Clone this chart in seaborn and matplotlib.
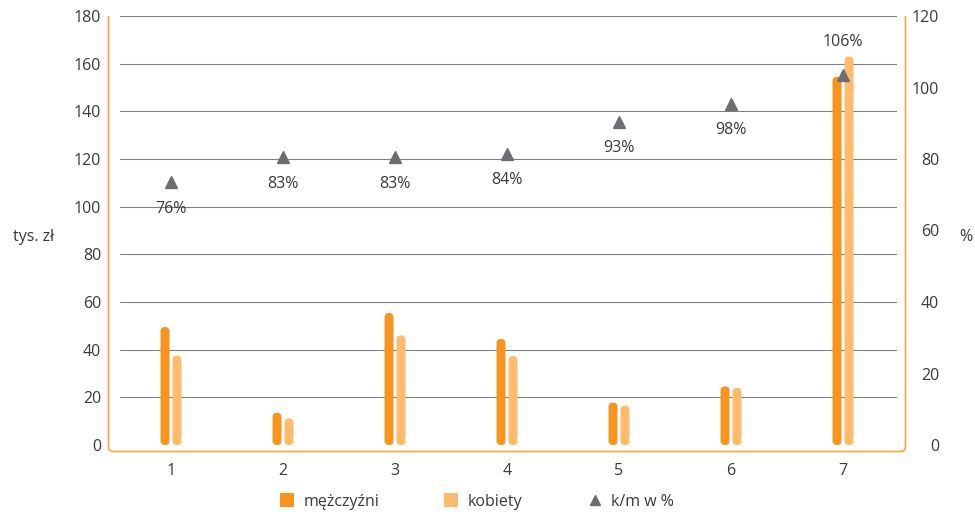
import numpy as np
import pandas as pd
import matplotlib
matplotlib.use("Agg")
import matplotlib.pyplot as plt
import matplotlib.transforms as mtransforms
import seaborn as sns
from matplotlib.patches import FancyBboxPatch, PathPatch
from matplotlib.path import Path
from matplotlib.lines import Line2D
from matplotlib.markers import MarkerStyle

# ---- data ----
categories = ["1", "2", "3", "4", "5", "6", "7"]
men = [49.5, 13.5, 55.4, 44.5, 17.8, 24.6, 154.5]
women = [37.5, 11.2, 46.0, 37.3, 16.5, 24.0, 163.0]
ratio_pct = [76, 83, 83, 84, 93, 98, 106]
series_names = ["mężczyźni", "kobiety"]
ratio_name = "k/m w %"
left_ticks = [0, 20, 40, 60, 80, 100, 120, 140, 160, 180]
right_ticks = [0, 20, 40, 60, 80, 100, 120]

MEN_COLOR = "#f7941d"
WOMEN_COLOR = "#fdbb6e"
RATIO_COLOR = "#6d6e71"
FRAME_COLOR = "#f8a33f"
GRID_COLOR = "#808080"
TEXT_COLOR = "#3a3a3a"
FS = 11.5

sns.set_theme(style="white")
plt.rcParams["font.family"] = ["Open Sans", "DejaVu Sans"]
plt.rcParams["font.size"] = FS
plt.rcParams["text.color"] = TEXT_COLOR

df = pd.DataFrame({
    "grupa": categories * 2,
    "wartość": men + women,
    "płeć": [series_names[0]] * len(categories) + [series_names[1]] * len(categories),
})

W, H, DPI = 975, 512, 100
fig = plt.figure(figsize=(W / DPI, H / DPI), dpi=DPI)
ax_left_px, ax_right_px, ax_top_px, ax_bottom_px = 115, 899, 16, 445
ax = fig.add_axes([ax_left_px / W, (H - ax_bottom_px) / H,
                   (ax_right_px - ax_left_px) / W, (ax_bottom_px - ax_top_px) / H])

sns.barplot(data=df, x="grupa", y="wartość", hue="płeć", hue_order=series_names,
            palette=[MEN_COLOR, WOMEN_COLOR], saturation=1, width=0.214, gap=0.25,
            ax=ax, legend=False, zorder=3)
ax.set_xlim(-0.5, len(categories) - 0.5)
ax.set_ylim(left_ticks[0], left_ticks[-1])

# replace square bars by bars with rounded ends
px_per_x = (ax_right_px - ax_left_px) / len(categories)
px_per_y = (ax_bottom_px - ax_top_px) / (left_ticks[-1] - left_ticks[0])
aspect = px_per_x / px_per_y
for p in list(ax.patches):
    x, y, w, h = p.get_x(), p.get_y(), p.get_width(), p.get_height()
    r = 0.49 * w
    rounded = FancyBboxPatch((x, y), w, h,
                             boxstyle=f"round,pad=0,rounding_size={r}",
                             mutation_aspect=aspect,
                             facecolor=p.get_facecolor(), edgecolor="none", zorder=3)
    p.remove()
    ax.add_patch(rounded)

# horizontal grid
for t in left_ticks[1:]:
    ax.axhline(t, xmin=5 / 784, xmax=781 / 784, color=GRID_COLOR, lw=0.8, zorder=0)

ax.set_yticks(left_ticks)
ax.set_xlabel("")
ax.set_ylabel("tys. zł", rotation=0, ha="center", va="center", fontsize=FS, color=TEXT_COLOR)
ax.yaxis.set_label_coords(-0.104, 0.485)
ax.tick_params(axis="y", length=0, pad=10, labelcolor=TEXT_COLOR, labelsize=FS)
ax.tick_params(axis="x", length=0, pad=13, labelcolor=TEXT_COLOR, labelsize=FS)

# ratio on secondary axis
ax2 = ax.twinx()
ax2.set_ylim(right_ticks[0], right_ticks[-1])
ax2.set_yticks(right_ticks)
xpos = np.arange(len(categories))
marker_shift = mtransforms.ScaledTranslation(0, -0.09, fig.dpi_scale_trans)
line, = ax2.plot(xpos, ratio_pct, linestyle="none", marker="^", markersize=9,
                 color=RATIO_COLOR, zorder=4)
line.set_transform(ax2.transData + marker_shift)
for i, (xv, pv) in enumerate(zip(xpos, ratio_pct)):
    dy = 17 if i == len(ratio_pct) - 1 else -25.5
    ax2.annotate(f"{pv}%", (xv, pv), xytext=(0, dy), textcoords="offset points",
                 ha="center", va="center", fontsize=FS, color=TEXT_COLOR)
ax2.tick_params(axis="y", length=0, pad=29, labelcolor=TEXT_COLOR, labelsize=FS)
for lbl in ax2.get_yticklabels():
    lbl.set_horizontalalignment("right")
ax2.set_ylabel("%", rotation=0, ha="center", va="center", fontsize=FS, color=TEXT_COLOR)
ax2.yaxis.set_label_coords(1.0855, 0.485)

for a in (ax, ax2):
    for s in a.spines.values():
        s.set_visible(False)
    a.grid(False)

# open-top frame with rounded bottom corners, set slightly outside the plot area
off = 6.5
x0 = ax_left_px - off
x1 = ax_right_px + off
ytop = H - ax_top_px
ybot = H - ax_bottom_px - off
rc = 5
verts = [(x0, ytop), (x0, ybot + rc), (x0, ybot), (x0 + rc, ybot),
         (x1 - rc, ybot), (x1, ybot), (x1, ybot + rc), (x1, ytop)]
codes = [Path.MOVETO, Path.LINETO, Path.CURVE3, Path.CURVE3,
         Path.LINETO, Path.CURVE3, Path.CURVE3, Path.LINETO]
frame = PathPatch(Path(verts, codes), facecolor="none", edgecolor=FRAME_COLOR,
                  lw=1.2, transform=mtransforms.IdentityTransform())
fig.add_artist(frame)

# legend
handles = [
    Line2D([], [], linestyle="none", marker=MarkerStyle("s", joinstyle="round"),
           markersize=8, markerfacecolor=MEN_COLOR, markeredgecolor=MEN_COLOR,
           markeredgewidth=1.5),
    Line2D([], [], linestyle="none", marker=MarkerStyle("s", joinstyle="round"),
           markersize=8, markerfacecolor=WOMEN_COLOR, markeredgecolor=WOMEN_COLOR,
           markeredgewidth=1.5),
    Line2D([], [], linestyle="none", marker="^", markersize=7, color=RATIO_COLOR),
]
fig.legend(handles, series_names + [ratio_name], loc="center",
           bbox_to_anchor=(476.5 / W, 10 / H), ncol=3, frameon=False,
           handlelength=1.0, handletextpad=0.55, columnspacing=4.0,
           fontsize=FS, labelcolor=TEXT_COLOR)

fig.savefig("out.png", dpi=DPI)
